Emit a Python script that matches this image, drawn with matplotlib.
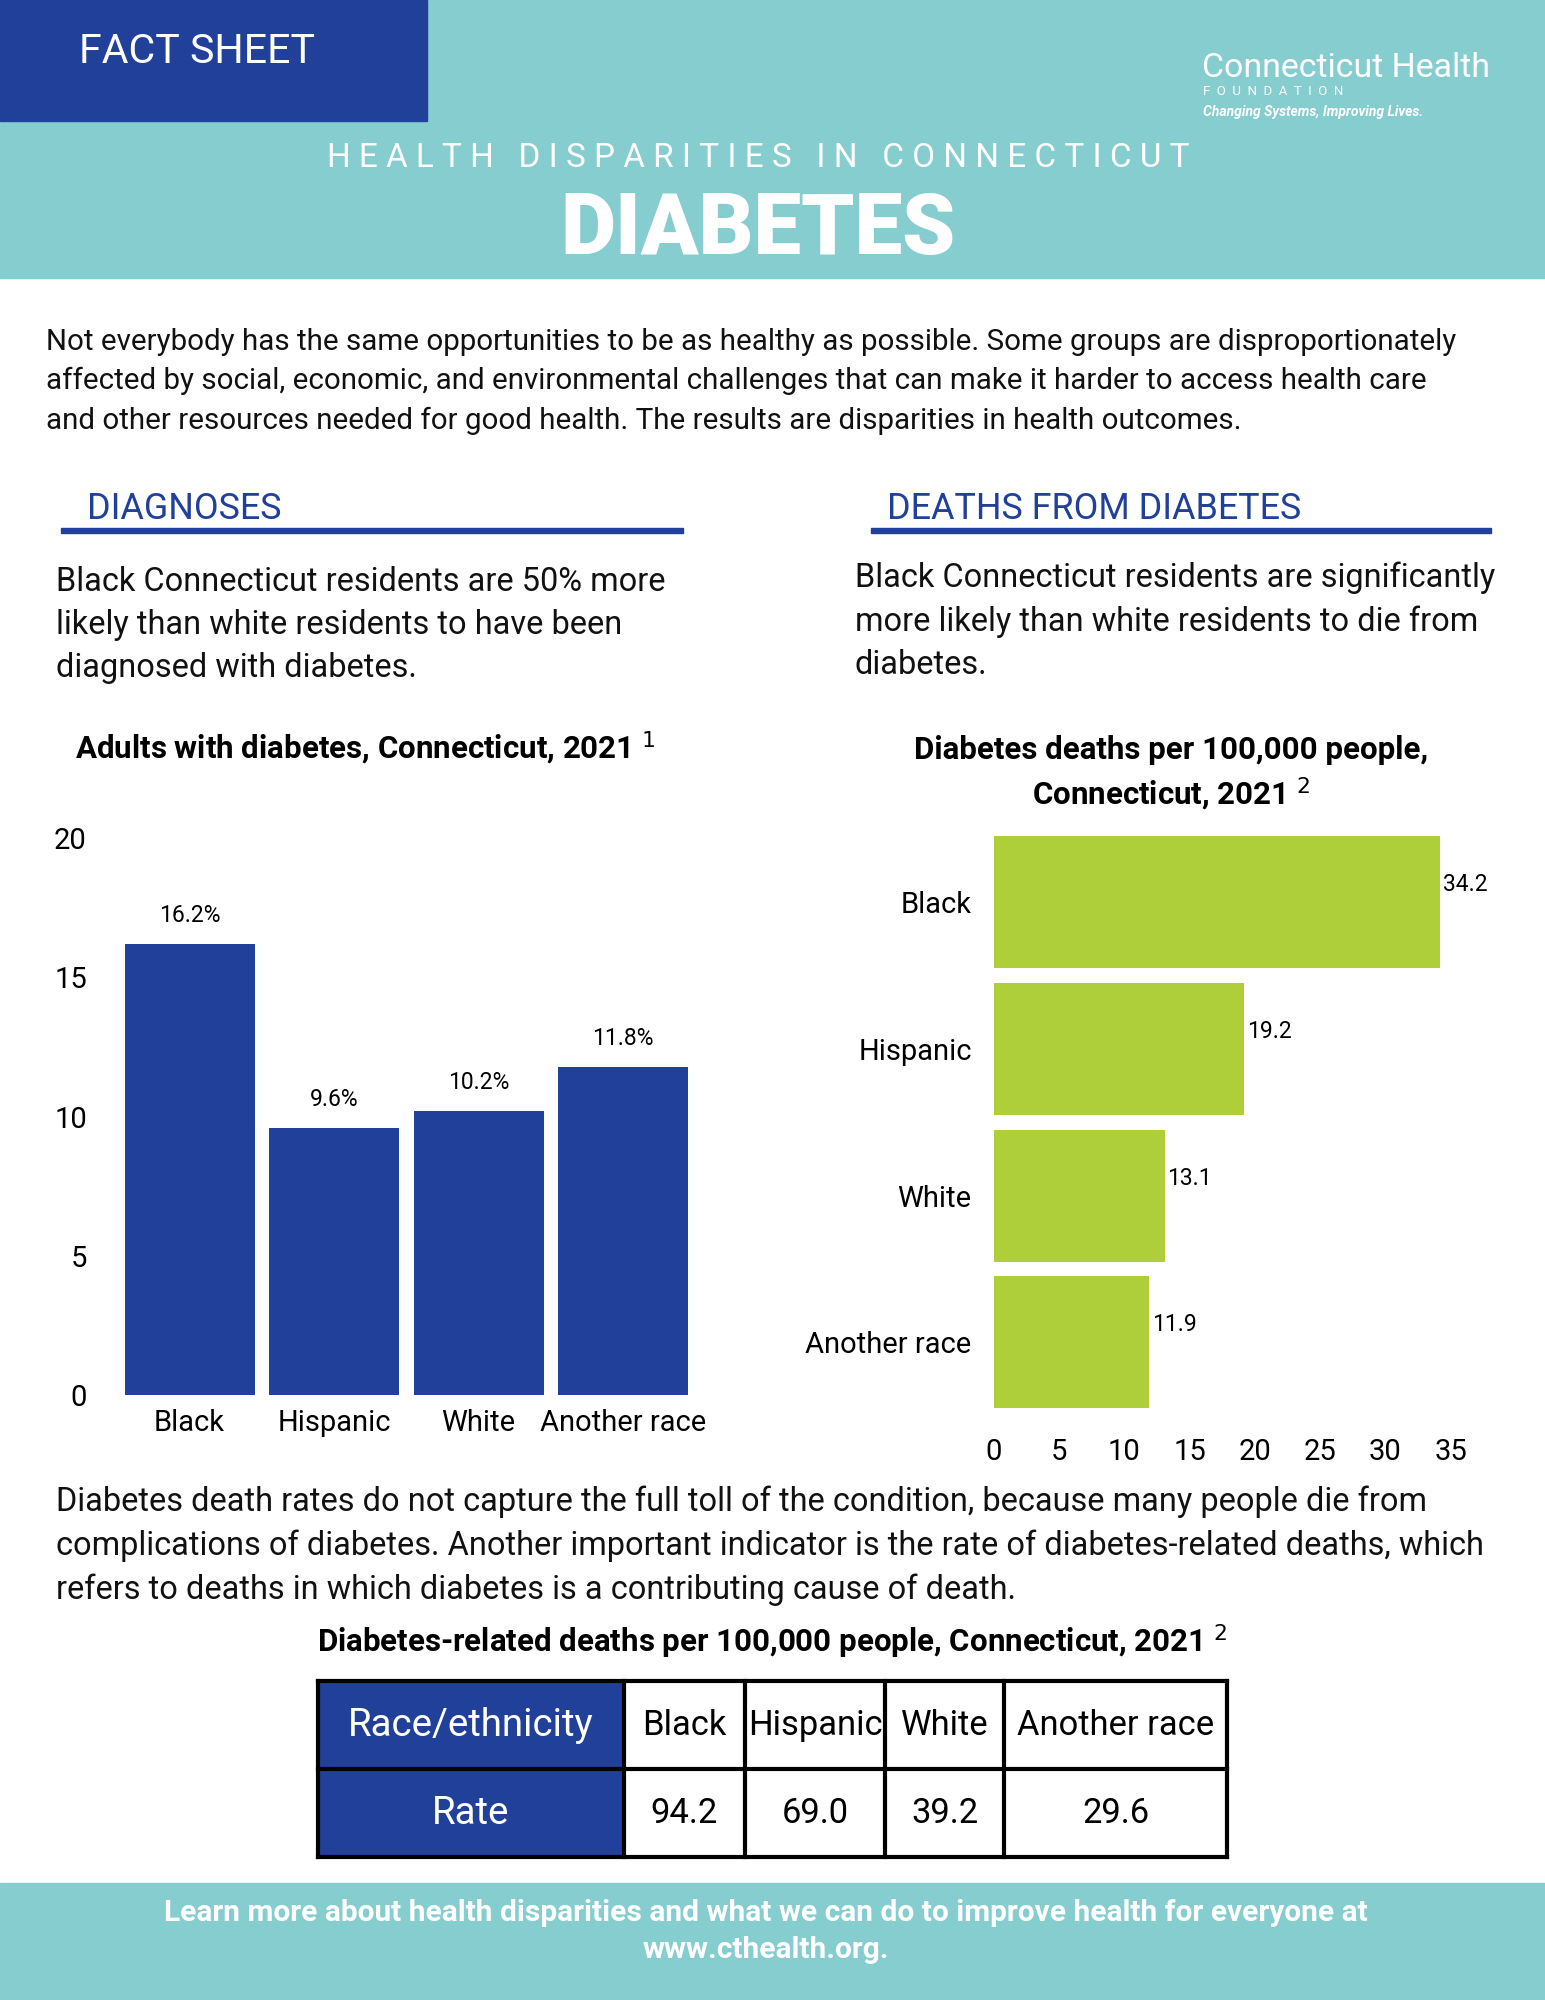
import matplotlib.pyplot as plt
from matplotlib.patches import Rectangle

plt.rcParams["font.family"] = ["Roboto", "DejaVu Sans"]

# data
diag_groups = ["Black", "Hispanic", "White", "Another race"]
diag_values = [16.2, 9.6, 10.2, 11.8]
death_groups = ["Black", "Hispanic", "White", "Another race"]
death_values = [34.2, 19.2, 13.1, 11.9]
table_header = ["Race/ethnicity", "Black", "Hispanic", "White", "Another race"]
table_rate = ["Rate", "94.2", "69.0", "39.2", "29.6"]

W, H = 1211, 1568
NAVY = "#21409A"
TEAL = "#86CDCF"
GREEN = "#AECF3A"

fig = plt.figure(figsize=(15.45, 20), dpi=100)
S = 2000 / H  # font scale


def fx(x):
    return x / W


def fy(y):
    return 1 - y / H


def txt(x, y, s, size, **kw):
    kw.setdefault("va", "center")
    fig.text(fx(x), fy(y), s, fontsize=size * S * 0.75, **kw)


def rect(x0, y0, x1, y1, color, **kw):
    fig.patches.append(Rectangle((fx(x0), fy(y1)), fx(x1 - x0), (y1 - y0) / H,
                                 transform=fig.transFigure, color=color, **kw))


# header
rect(0, 0, W, 218, TEAL)
rect(0, 0, 335, 95, NAVY)
txt(62, 40, "FACT SHEET", 31, color="white")
txt(942, 53, "Connecticut Health", 25.5, color="white")
txt(943, 72, "F  O  U  N  D  A  T  I  O  N", 10, color="white")
txt(943, 88, "Changing Systems, Improving Lives.", 10.5, color="white", style="italic", fontweight="bold")
txt(594, 124, "H E A L T H   D I S P A R I T I E S   I N   C O N N E C T I C U T", 25,
    color="white", ha="center")
txt(594, 181, "DIABETES", 64, color="white", ha="center", fontweight="black")

para = ("Not everybody has the same opportunities to be as healthy as possible. Some groups are disproportionately\n"
        "affected by social, economic, and environmental challenges that can make it harder to access health care\n"
        "and other resources needed for good health. The results are disparities in health outcomes.")
txt(36, 299, para, 22.2, color="#111111", linespacing=1.5)

# section titles
txt(68, 399, "DIAGNOSES", 27, color=NAVY)
rect(48, 414, 535, 418, NAVY)
txt(695, 399, "DEATHS FROM DIABETES", 27, color=NAVY)
rect(683, 414, 1169, 418, NAVY)
txt(44, 490, "Black Connecticut residents are 50% more\nlikely than white residents to have been\ndiagnosed with diabetes.",
    24.5, color="#111111", linespacing=1.45)
txt(670, 487, "Black Connecticut residents are significantly\nmore likely than white residents to die from\ndiabetes.",
    24.5, color="#111111", linespacing=1.45)

txt(59, 587, "Adults with diabetes, Connecticut, 2021 $^1$", 23.5, fontweight="bold")
txt(918, 607, "Diabetes deaths per 100,000 people,\nConnecticut, 2021 $^2$", 23.5,
    fontweight="bold", ha="center", linespacing=1.35)

# left bar chart
ax1 = fig.add_axes([fx(92), fy(1094), fx(545 - 92), (1094 - 657) / H])
xs = range(len(diag_groups))
bars = ax1.bar(xs, diag_values, width=0.9, color=NAVY)
for b, v in zip(bars, diag_values):
    ax1.text(b.get_x() + b.get_width() / 2, v + 0.6, f"{v}%", ha="center", va="bottom", fontsize=16.5)
ax1.set_ylim(0, 20)
ax1.set_xlim(-0.5, 3.5)
ax1.set_yticks([0, 5, 10, 15, 20])
ax1.set_xticks(list(xs))
ax1.set_xticklabels(diag_groups)
ax1.tick_params(length=0, labelsize=21, pad=10)
ax1.tick_params(axis="y", pad=22)
for sp in ax1.spines.values():
    sp.set_visible(False)

# right bar chart
ax2 = fig.add_axes([fx(779), fy(1110), fx(1137 - 779), (1110 - 650) / H])
ys = range(len(death_groups))
hb = ax2.barh(ys, death_values, height=0.9, color=GREEN)
for i, v in zip(ys, death_values):
    ax2.text(v + 0.2, i - 0.12, f"{v}", va="center", fontsize=16.5)
ax2.set_xlim(0, 35)
ax2.set_ylim(3.5, -0.5)
ax2.set_xticks(range(0, 36, 5))
ax2.set_yticks(list(ys))
ax2.set_yticklabels(death_groups)
ax2.tick_params(length=0, labelsize=21, pad=16)
for sp in ax2.spines.values():
    sp.set_visible(False)

txt(44, 1212, "Diabetes death rates do not capture the full toll of the condition, because many people die from\n"
    "complications of diabetes. Another important indicator is the rate of diabetes-related deaths, which\n"
    "refers to deaths in which diabetes is a contributing cause of death.", 24.5, color="#111111", linespacing=1.45)
txt(605, 1287, "Diabetes-related deaths per 100,000 people, Connecticut, 2021 $^2$", 23.5,
    fontweight="bold", ha="center")

# table
cols = [249, 489, 584, 694, 787, 962]
rows = [1318, 1387, 1456]
rect(cols[0], rows[0], cols[1], rows[2], NAVY)
for x in cols:
    fig.add_artist(plt.Line2D([fx(x)] * 2, [fy(rows[0]), fy(rows[2])], color="black", lw=3))
for y in rows:
    fig.add_artist(plt.Line2D([fx(cols[0]), fx(cols[-1])], [fy(y)] * 2, color="black", lw=3))
for r, vals in enumerate([table_header, table_rate]):
    yc = (rows[r] + rows[r + 1]) / 2
    for c, v in enumerate(vals):
        xc = (cols[c] + cols[c + 1]) / 2
        size = 29 if c == 0 else 26
        txt(xc, yc, v, size, ha="center", color="white" if c == 0 else "black")

# footer
rect(0, 1476, W, H, TEAL)
txt(600, 1514, "Learn more about health disparities and what we can do to improve health for everyone at\nwww.cthealth.org.",
    22.5, color="white", fontweight="bold", ha="center", linespacing=1.4)

fig.savefig("out.png", dpi=100)
